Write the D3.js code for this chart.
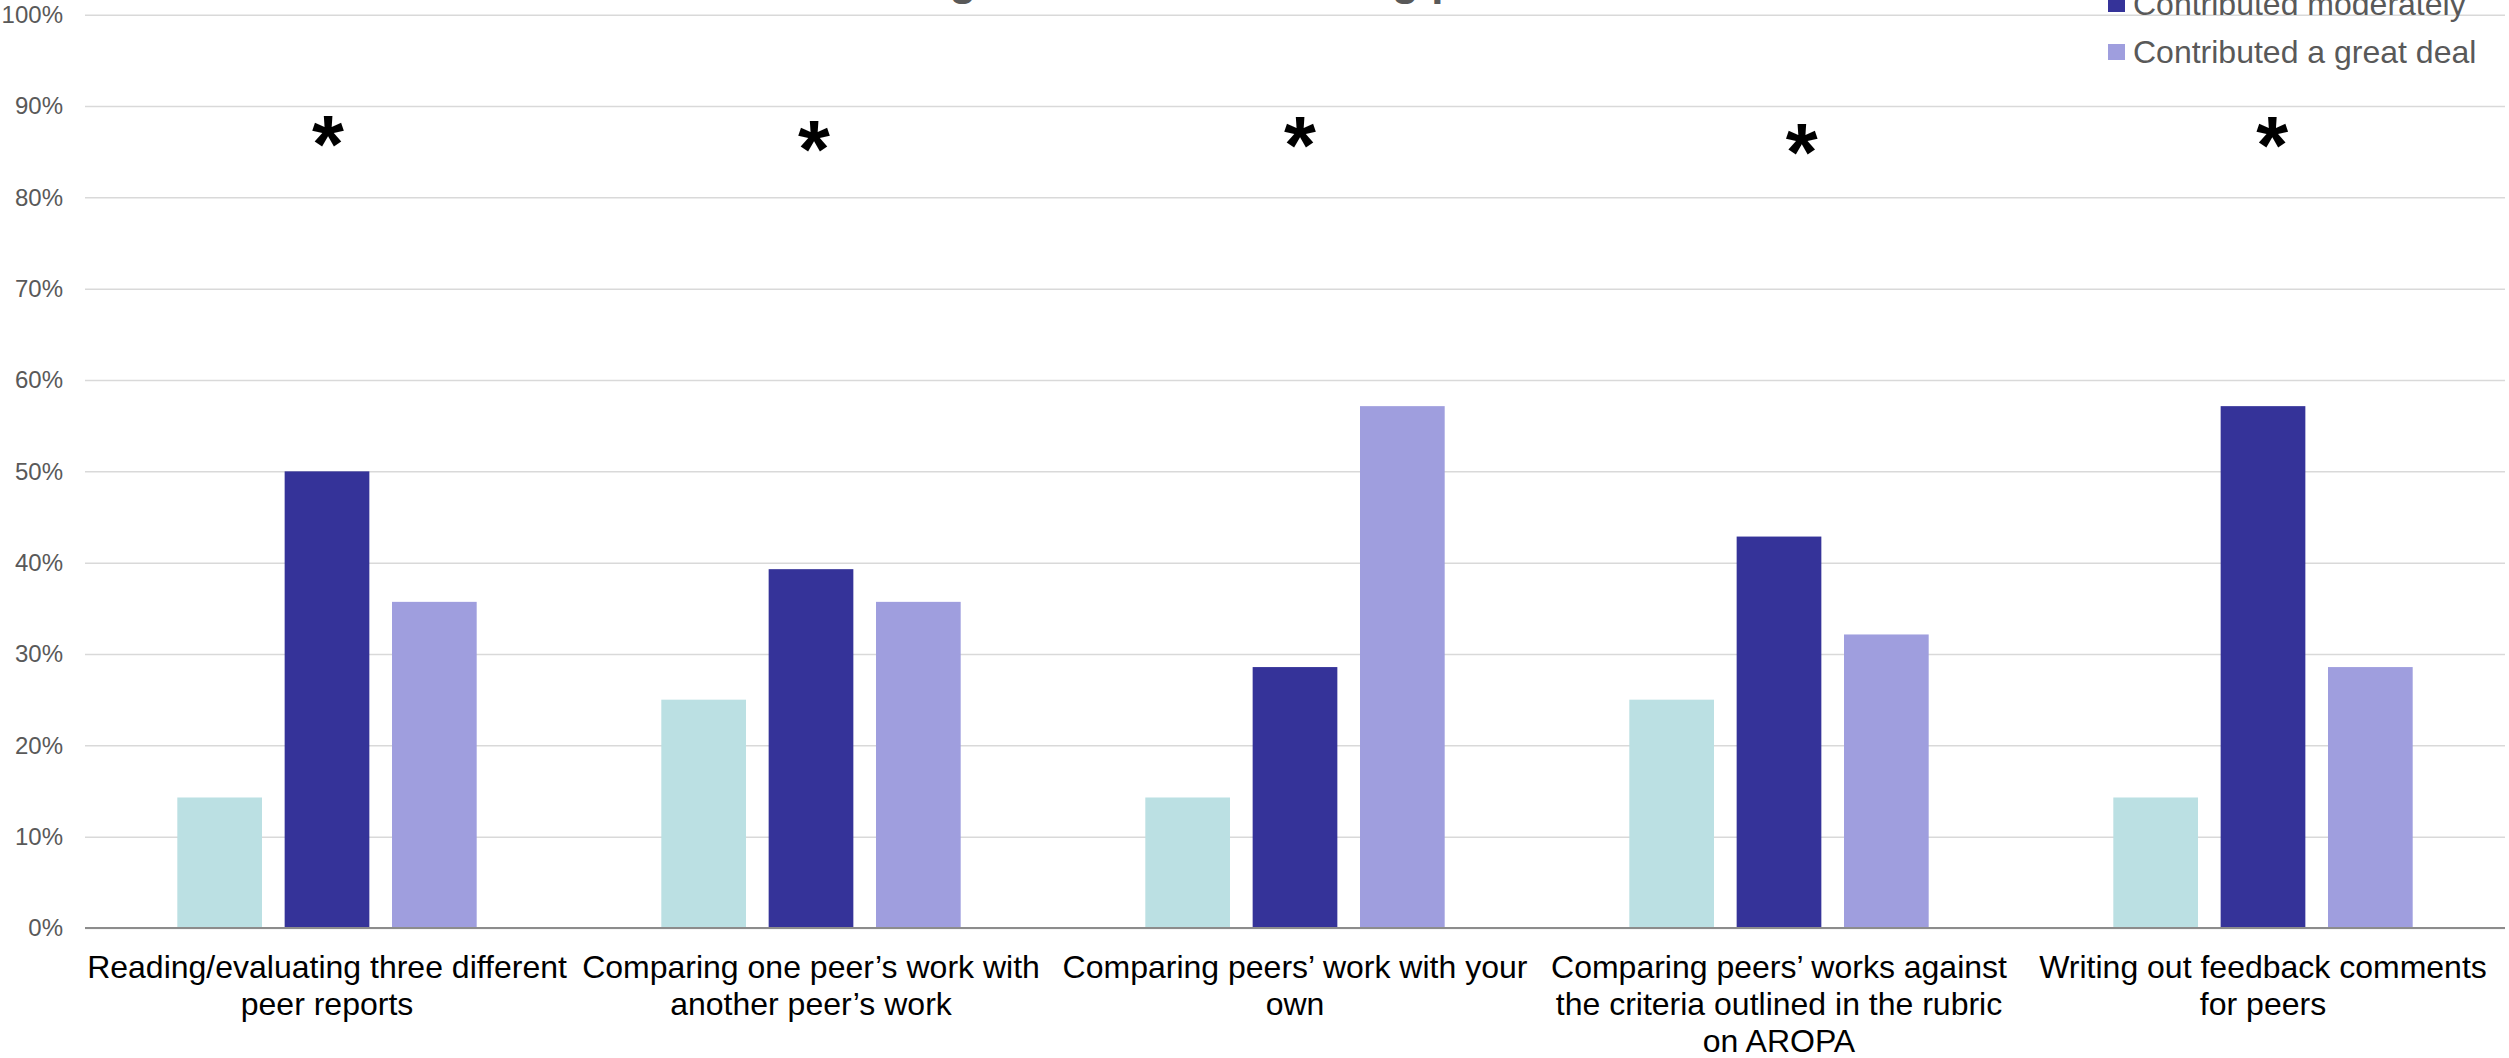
<!DOCTYPE html>
<html>
<head>
<meta charset="utf-8">
<script src="https://cdn.jsdelivr.net/npm/d3@7"></script>
<style>
  html, body { margin: 0; padding: 0; background: #ffffff; }
  svg { display: block; font-family: "Liberation Sans", Arial, sans-serif; }
</style>
</head>
<body>
<svg id="chart" width="2509" height="1058"></svg>
<script>
// Activity categories (line breaks mark where each label wraps)
const categories = [
  "Reading/evaluating three different\npeer reports",
  "Comparing one peer’s work with\nanother peer’s work",
  "Comparing peers’ work with your\nown",
  "Comparing peers’ works against\nthe criteria outlined in the rubric\non AROPA",
  "Writing out feedback comments\nfor peers"
];

const seriesNames = ["Contributed a little", "Contributed moderately", "Contributed a great deal"];

// Share of respondents (%) per activity
const contributedLittle     = [14.29, 25.00, 14.29, 25.00, 14.29];
const contributedModerately = [50.00, 39.29, 28.57, 42.86, 57.14];
const contributedGreatDeal  = [35.71, 35.71, 57.14, 32.14, 28.57];

const yTicks = [0, 10, 20, 30, 40, 50, 60, 70, 80, 90, 100];

// Significance markers: level (%) of each asterisk and a small sideways nudge (fraction of band)
const asteriskLevel = [87.98, 87.40, 87.87, 87.16, 87.87];
const asteriskShift = [0.002, 0.006, 0.010, 0.047, 0.019];

const titleText = "Activities contributing to students’ learning process";

const colors = ["#BBE0E3", "#353399", "#9F9EDE"];

const svg = d3.select("#chart");
const W = 2509, H = 1058;
const plot = { left: 85, right: 2505, top: 14.7, bottom: 928 };

const values = [contributedLittle, contributedModerately, contributedGreatDeal];
const rows = categories.map((c, i) => ({
  cat: c,
  vals: seriesNames.map((s, k) => ({ series: s, k, v: values[k][i] }))
}));

const x0 = d3.scaleBand().domain(categories).range([plot.left, plot.right]).padding(0);
const x1 = d3.scaleBand().domain(seriesNames).range([0, x0.bandwidth()])
  .paddingInner(0.211).paddingOuter(0.86);
const y = d3.scaleLinear().domain([0, 100]).range([plot.bottom, plot.top]);

// Title (sits just above the top edge)
svg.append("text")
  .attr("x", 512).attr("y", -5)
  .attr("font-size", 44).attr("font-weight", "bold")
  .attr("fill", "#595959")
  .text(titleText);

// Y axis with gridlines
const yAxis = d3.axisLeft(y)
  .tickValues(yTicks)
  .tickFormat(d => d + "%")
  .tickSize(-(plot.right - plot.left))
  .tickPadding(22);

const gy = svg.append("g").attr("transform", `translate(${plot.left},0)`).call(yAxis);
gy.select(".domain").remove();
gy.selectAll(".tick line").attr("stroke", "#d9d9d9").attr("stroke-width", 1.5);
gy.selectAll(".tick text")
  .attr("fill", "#595959").attr("font-size", 24)
  .attr("font-family", "Liberation Sans, Arial, sans-serif");

// Bars
const groups = svg.append("g").selectAll("g")
  .data(rows).join("g")
  .attr("transform", d => `translate(${x0(d.cat)},0)`);

groups.selectAll("rect")
  .data(d => d.vals).join("rect")
  .attr("x", d => x1(d.series))
  .attr("y", d => y(d.v))
  .attr("width", x1.bandwidth())
  .attr("height", d => y(0) - y(d.v))
  .attr("fill", d => colors[d.k]);

// Baseline
svg.append("line")
  .attr("x1", plot.left).attr("x2", plot.right)
  .attr("y1", y(0)).attr("y2", y(0))
  .attr("stroke", "#8c8c8c").attr("stroke-width", 2);

// Category labels
const xl = svg.append("g").selectAll("text")
  .data(categories).join("text")
  .attr("x", d => x0(d) + x0.bandwidth() / 2)
  .attr("y", 978)
  .attr("text-anchor", "middle")
  .attr("font-size", 32)
  .attr("fill", "#000000");
xl.each(function (d) {
  const t = d3.select(this);
  d.split("\n").forEach((line, i) => {
    t.append("tspan")
      .attr("x", x0(d) + x0.bandwidth() / 2)
      .attr("dy", i === 0 ? 0 : 37)
      .text(line);
  });
});

// Significance asterisks
const astSize = 82;
svg.append("g").selectAll("text")
  .data(categories).join("text")
  .attr("x", (d, i) => x0(d) + x0.bandwidth() * (0.5 + asteriskShift[i]))
  .attr("y", (d, i) => y(asteriskLevel[i]) + 0.58 * astSize)
  .attr("text-anchor", "middle")
  .attr("font-size", astSize)
  .attr("font-weight", "bold")
  .attr("fill", "#000000")
  .text("*");

// Legend (top right)
const legend = svg.append("g").selectAll("g")
  .data(seriesNames).join("g")
  .attr("transform", (d, i) => `translate(2108, ${63 - (2 - i) * 48})`);
legend.append("rect")
  .attr("x", 0).attr("y", -19).attr("width", 17).attr("height", 16)
  .attr("fill", (d, i) => colors[i]);
legend.append("text")
  .attr("x", 25).attr("y", 0)
  .attr("font-size", 32).attr("fill", "#595959")
  .text(d => d);
</script>
</body>
</html>
